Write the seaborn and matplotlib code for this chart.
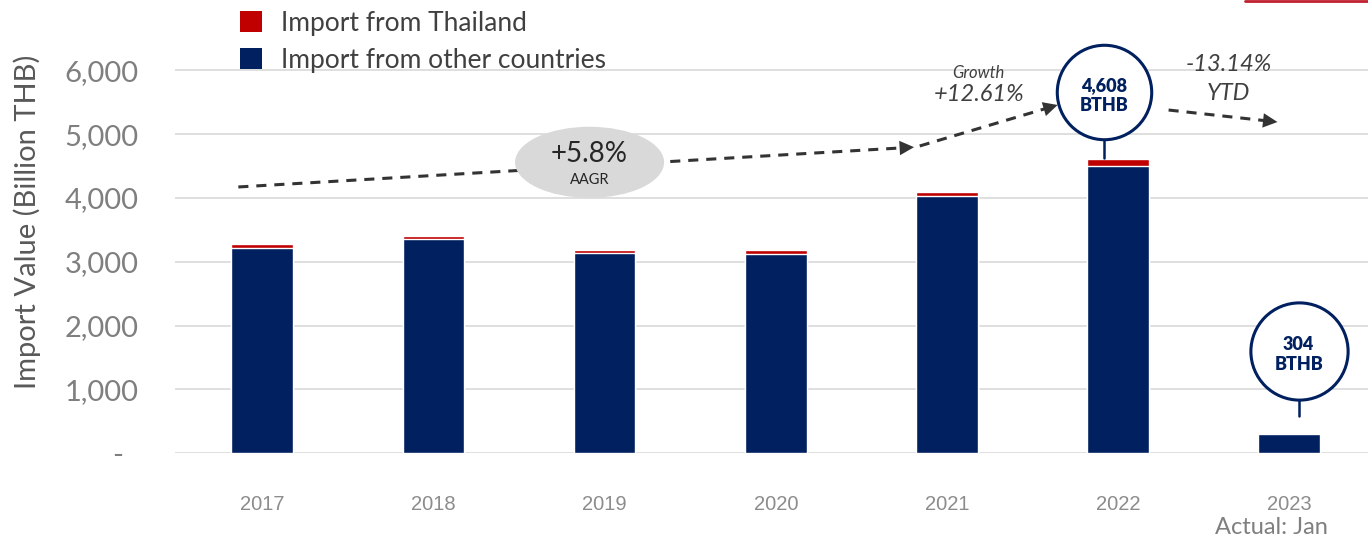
import matplotlib
matplotlib.use("Agg")
import matplotlib.pyplot as plt
import seaborn as sns
import pandas as pd
from matplotlib.patches import Patch, Ellipse
from matplotlib.lines import Line2D

# Données (milliards de THB)
years = ['2017', '2018', '2019', '2020', '2021', '2022', '2023']
total_import = [3275, 3410, 3185, 3180, 4100, 4608, 304]
import_thailand = [60, 60, 55, 60, 75, 100, 5]
import_other = [t - th for t, th in zip(total_import, import_thailand)]

yticks = [0, 1000, 2000, 3000, 4000, 5000, 6000]
ytick_labels = ['-  ', '1,000', '2,000', '3,000', '4,000', '5,000', '6,000']

# Annotations (coordonnées en unités de données)
trend_arrows = [
    ((-0.14, 4173), (3.824, 4800)),
    ((3.841, 4816), (4.647, 5459)),
    ((5.295, 5380), (5.931, 5192)),
]
callouts = [
    # (x cercle, y cercle, taille, texte, y haut de la tige, y bas de la tige)
    (4.92, 5663, 68, '4,608\nBTHB', 4925, 4630),
    (6.055, 1600, 70, '304\nBTHB', 832, 580),
]

NAVY = '#002060'
RED = '#C00000'
DARK = '#404040'

sns.set_theme(style='white')
plt.rcParams['font.family'] = ['Lato', 'DejaVu Sans']

df = pd.DataFrame({'year': years, 'total': total_import, 'other': import_other})

fig = plt.figure(figsize=(13.68, 5.39), dpi=100)
ax = fig.add_axes([175 / 1368, 86 / 539, 1193 / 1368, 453 / 539])

# Barres empilées : total (rouge) puis autres pays (bleu) par-dessus
sns.barplot(data=df, x='year', y='total', color=RED, width=0.36,
            saturation=1, errorbar=None, ax=ax, zorder=3)
sns.barplot(data=df, x='year', y='other', color=NAVY, width=0.36,
            saturation=1, errorbar=None, ax=ax, zorder=3)

ax.set_xlim(-0.51, 6.46)
ax.set_ylim(0, 453 / 63.75 * 1000)
ax.set_yticks(yticks)
ax.set_yticklabels(ytick_labels)
ax.yaxis.grid(True, color='#d9d9d9', lw=1.2)
ax.set_axisbelow(True)
for s in ax.spines.values():
    s.set_visible(False)
ax.tick_params(axis='y', length=0, pad=26, labelsize=21, labelcolor='#7f7f7f')
ax.tick_params(axis='x', length=0, pad=30, labelsize=14.5, labelcolor='#8c8c8c')
for lbl in ax.get_xticklabels():
    lbl.set_fontfamily('Liberation Sans')
ax.set_xlabel('')
ax.set_ylabel('Import Value (Billion THB)', fontsize=21, color='#595959')
ax.yaxis.set_label_coords(-0.112, 0.511)

# Flèches de tendance en pointillés
for (x0, y0), (x1, y1) in trend_arrows:
    dx, dy = x1 - x0, y1 - y0
    ax.plot([x0, x1 - 0.04 * dx / abs(dx)], [y0, y1 - 0.04 * dy / abs(dx)],
            color='#333333', lw=2.2, dashes=(3.3, 2.6), zorder=4)
    ax.annotate('', xy=(x1, y1), xytext=(x1 - 0.02 * dx, y1 - 0.02 * dy),
                arrowprops=dict(arrowstyle='-|>', color='#333333', lw=0,
                                mutation_scale=26), zorder=4)

# Bulle AAGR
ax.add_patch(Ellipse((1.912, 4560), 0.871, 1115, facecolor='#d9d9d9',
                     edgecolor='none', zorder=5))
ax.text(1.912, 4698, '+5.8%', ha='center', va='center', fontsize=20,
        color='#262626', zorder=6)
ax.text(1.912, 4282, 'AAGR', ha='center', va='center', fontsize=10.5,
        color='#262626', zorder=6)

# Textes de croissance
ax.text(4.186, 5960, 'Growth', ha='center', va='center', fontsize=12,
        style='italic', color=DARK)
ax.text(4.186, 5620, '+12.61%', ha='center', va='center', fontsize=17,
        style='italic', color=DARK)
ax.text(5.645, 6100, '-13.14%', ha='center', va='center', fontsize=17,
        style='italic', color=DARK)
ax.text(5.645, 5640, 'YTD', ha='center', va='center', fontsize=17,
        style='italic', color=DARK)

# Bulles de valeur
for cx, cy, size, txt, ytop, ybot in callouts:
    ax.plot([cx, cx], [ytop, ybot], color=NAVY, lw=1.8, zorder=5)
    ax.scatter([cx], [cy], s=size ** 2, facecolor='white', edgecolor=NAVY,
               linewidth=2.2, zorder=6, clip_on=False)
    ax.text(cx, cy - 60, txt, ha='center', va='center', fontsize=13,
            fontweight='heavy', color=NAVY, linespacing=1.2, zorder=7)

# Légende
handles = [Patch(facecolor=RED, edgecolor='none', label='Import from Thailand'),
           Patch(facecolor=NAVY, edgecolor='none', label='Import from other countries')]
fig.legend(handles=handles, loc='upper left', bbox_to_anchor=(240 / 1368, 1 - 11 / 539),
           frameon=False, fontsize=19, handlelength=0.85, handleheight=0.85,
           handletextpad=0.7, labelspacing=0.45, borderpad=0, borderaxespad=0,
           labelcolor='#404040')

fig.text(1271 / 1368, 1 - 527 / 539, 'Actual: Jan', ha='center', va='center',
         fontsize=17, color='#7f7f7f')

# Trait rouge en haut à droite
fig.add_artist(Line2D([1245 / 1368, 1.0], [1 - 1 / 539, 1 - 1 / 539],
                      color='#C0202F', lw=2))

fig.savefig('out.png', dpi=100)
